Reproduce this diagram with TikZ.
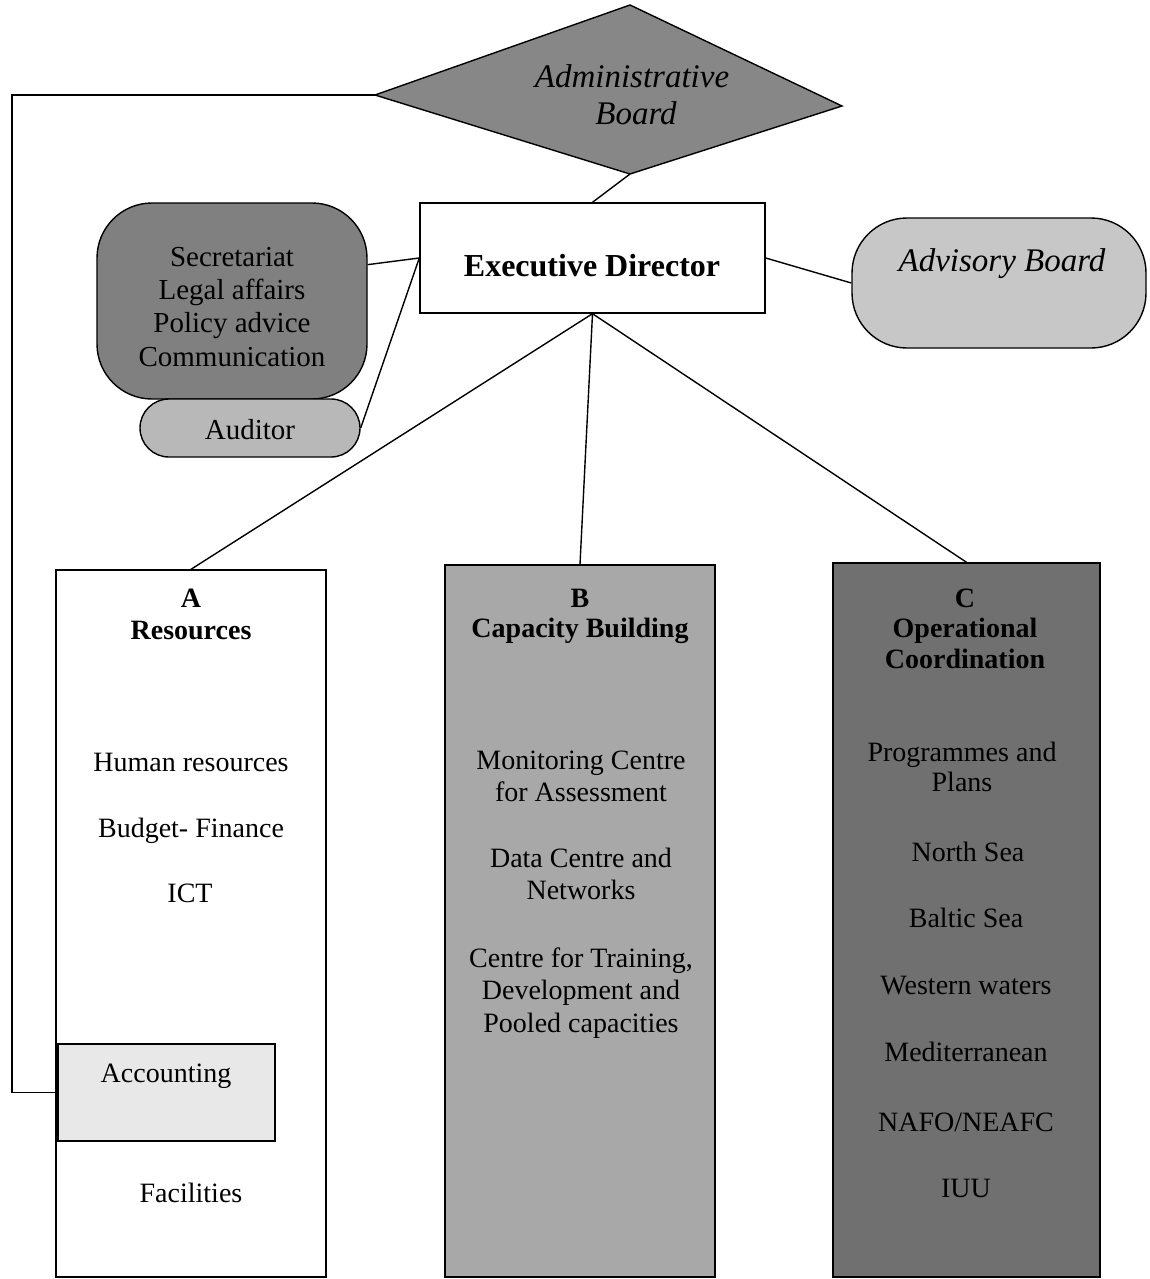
\documentclass[tikz,border=0pt]{standalone}
\usepackage{fontspec}
\setmainfont{Liberation Serif}
\usetikzlibrary{calc}
\definecolor{diafill}{gray}{0.53}
\definecolor{secfill}{gray}{0.50}
\definecolor{audfill}{gray}{0.72}
\definecolor{advfill}{gray}{0.78}
\definecolor{bfill}{gray}{0.66}
\definecolor{cfill}{gray}{0.44}
\definecolor{accfill}{gray}{0.91}
\begin{document}
\begin{tikzpicture}[x=1pt,y=-1pt,
  wire/.style={draw=black,line width=1.4pt},
  box/.style={draw=black,line width=1.4pt,inner sep=0pt,rectangle},
  txt/.style={inner sep=0pt,text height=19pt,text depth=0pt,font=\fontsize{28}{32}\selectfont},
  btxt/.style={txt,font=\fontsize{28}{32}\selectfont\bfseries},
  stxt/.style={txt,font=\fontsize{29}{32}\selectfont},
  itxt/.style={txt,font=\fontsize{33}{36}\selectfont\itshape}]
\useasboundingbox (0,0) rectangle (1150,1279);

% Administrative board (diamond)
\coordinate (dt) at (630,5);
\coordinate (dr) at (842,106);
\coordinate (db) at (630,174);
\coordinate (dl) at (375,95);
\path[fill=diafill,draw=black,line width=1.4pt] (dt) -- (dr) -- (db) -- (dl) -- cycle;
\node[itxt] (adm1) at (632,78) {Administrative};
\node[itxt] (adm2) at (636,115) {Board};

% Executive director
\node[box,fill=white,minimum width=345pt,minimum height=110pt] (ed) at (592.5,258) {};
\node[btxt,font=\fontsize{32}{36}\selectfont\bfseries] (edt) at (592,267) {Executive Director};

% Secretariat and auditor
\node[box,fill=secfill,rounded corners=55pt,minimum width=270pt,minimum height=196pt] (sec) at (232,301) {};
\node[stxt] (s1) at (232,257) {Secretariat};
\node[stxt] (s2) at (232,290) {Legal affairs};
\node[stxt] (s3) at (232,323) {Policy advice};
\node[stxt] (s4) at (232,357) {Communication};
\node[box,fill=audfill,rounded corners=29pt,minimum width=220pt,minimum height=58pt] (aud) at (250,428) {};
\node[stxt] (audt) at (250,430) {Auditor};

% Advisory board
\node[box,fill=advfill,rounded corners=55pt,minimum width=294pt,minimum height=130pt] (adv) at (999,283) {};
\node[itxt] (advt) at (1002,262) {Advisory Board};

% Columns
\node[box,fill=white,minimum width=270pt,minimum height=707pt] (colA) at (191,923.5) {};
\node[box,fill=bfill,minimum width=270pt,minimum height=712pt] (colB) at (580,921) {};
\node[box,fill=cfill,minimum width=267pt,minimum height=714pt] (colC) at (966.5,920) {};
\node[box,fill=accfill,minimum width=217pt,minimum height=97pt] (acc) at (166.5,1092.5) {};

% Column A texts
\node[btxt] (a0) at (191,598) {A};
\node[btxt] (a1) at (191,630) {Resources};
\node[txt] (a2) at (191,762) {Human resources};
\node[txt] (a3) at (191,828) {Budget- Finance};
\node[txt] (a4) at (190,893) {ICT};
\node[txt] (a5) at (166,1073) {Accounting};
\node[txt] (a6) at (191,1193) {Facilities};

% Column B texts
\node[btxt] (b0) at (580,598) {B};
\node[btxt] (b1) at (580,628) {Capacity Building};
\node[txt] (b2) at (581,760) {Monitoring Centre};
\node[txt] (b3) at (581,792) {for Assessment};
\node[txt] (b4) at (581,858) {Data Centre and};
\node[txt] (b5) at (581,890) {Networks};
\node[txt] (b6) at (581,958) {Centre for Training,};
\node[txt] (b7) at (581,990) {Development and};
\node[txt] (b8) at (581,1023) {Pooled capacities};

% Column C texts
\node[btxt] (c0) at (965,598) {C};
\node[btxt] (c1) at (965,628) {Operational};
\node[btxt] (c2) at (965,659) {Coordination};
\node[txt] (c3) at (962,752) {Programmes and};
\node[txt] (c4) at (962,782) {Plans};
\node[txt] (c5) at (968,852) {North Sea};
\node[txt] (c6) at (966,918) {Baltic Sea};
\node[txt] (c7) at (966,985) {Western waters};
\node[txt] (c8) at (966,1052) {Mediterranean};
\node[txt] (c9) at (966,1122) {NAFO/NEAFC};
\node[txt] (c10) at (966,1188) {IUU};

% Connectors
\coordinate (wire) at (12,0);
\draw[wire] (dl) -| (wire |- acc.west) -- (acc.west);
\draw[wire] (db) -- (ed.north);
\draw[wire] (sec.15) -- (ed.west);
\draw[wire] (aud.east) -- (ed.west);
\draw[wire] (ed.east) -- (adv.west);
\draw[wire] (ed.south) -- (colA.north);
\draw[wire] (ed.south) -- (colB.north);
\draw[wire] (ed.south) -- (colC.north);
\end{tikzpicture}
\end{document}
